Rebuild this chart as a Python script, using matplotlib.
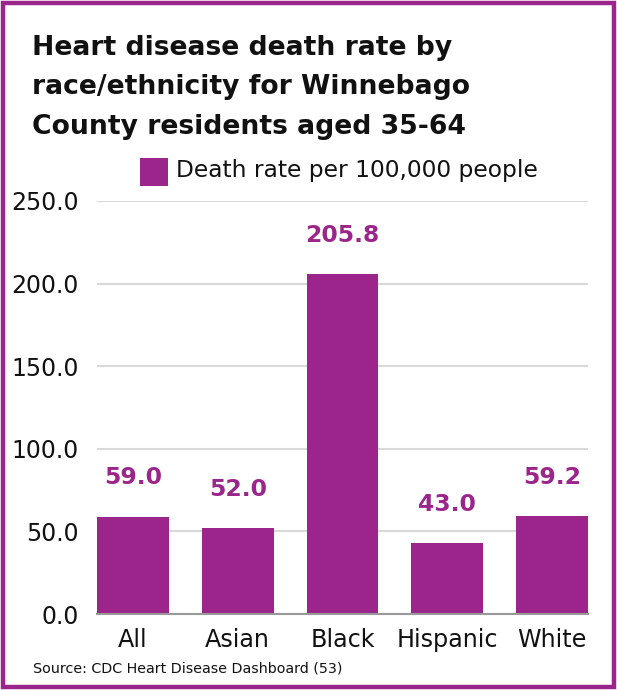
import matplotlib
matplotlib.use("Agg")
import matplotlib.pyplot as plt
from matplotlib.patches import Rectangle

plt.rcParams['font.family'] = ['DejaVu Sans']

groups = ["All", "Asian", "Black", "Hispanic", "White"]
rates = [59.0, 52.0, 205.8, 43.0, 59.2]
y_ticks = [0, 50, 100, 150, 200, 250]

title_lines = ["Heart disease death rate by",
               "race/ethnicity for Winnebago",
               "County residents aged 35-64"]

purple = "#9C258C"
W, H = 617, 690

fig = plt.figure(figsize=(W / 100, H / 100), dpi=100)

# purple frame around the whole graphic
fig.patches.append(Rectangle((3 / W, 3 / H), (W - 6) / W, (H - 6) / H,
                             transform=fig.transFigure, fill=False,
                             edgecolor=purple, linewidth=3.2))

for i, line in enumerate(title_lines):
    fig.text(32 / W, 1 - (55 + 39.5 * i) / H, line,
             fontsize=19.2, fontweight="bold", color="#111111",
             ha="left", va="baseline")

# legend box
fig.patches.append(Rectangle((140 / W, 1 - 186 / H), 28 / W, 28 / H,
                             transform=fig.transFigure, facecolor=purple,
                             edgecolor="none"))
fig.text(176 / W, 1 - 171 / H, "Death rate per 100,000 people",
         fontsize=16.8, color="#111111", ha="left", va="center")

ax = fig.add_axes([97 / W, (H - 614) / H, 491 / W, (614 - 201) / H])
x = list(range(len(groups)))
bars = ax.bar(x, rates, width=0.686, color=purple, zorder=3)
for xi, v in zip(x, rates):
    ax.annotate(f"{v:.1f}", (xi, v), xytext=(0, 28), textcoords="offset points",
                ha="center", va="center", fontsize=16.9, fontweight="bold",
                color=purple)

ax.set_xlim(-0.343, 4.343)
ax.set_ylim(0, 250)
ax.set_yticks(y_ticks)
ax.set_yticklabels([f"{t:.1f}" for t in y_ticks])
ax.set_xticks(x)
ax.set_xticklabels(groups)
ax.tick_params(axis="y", length=0, pad=13, labelsize=17, labelcolor="#111111")
ax.tick_params(axis="x", length=0, pad=10, labelsize=17.2, labelcolor="#111111")
ax.grid(axis="y", color="#d9d9d9", linewidth=1.5, zorder=0)
for s in ["top", "right", "left"]:
    ax.spines[s].set_visible(False)
ax.spines["bottom"].set_color("#999999")
ax.spines["bottom"].set_linewidth(1.5)
ax.spines["bottom"].set_zorder(4)

fig.text(33 / W, 1 - 668 / H, "Source: CDC Heart Disease Dashboard (53)",
         fontsize=10.3, color="#111111", ha="left", va="center")

fig.savefig("out.png", dpi=100)
